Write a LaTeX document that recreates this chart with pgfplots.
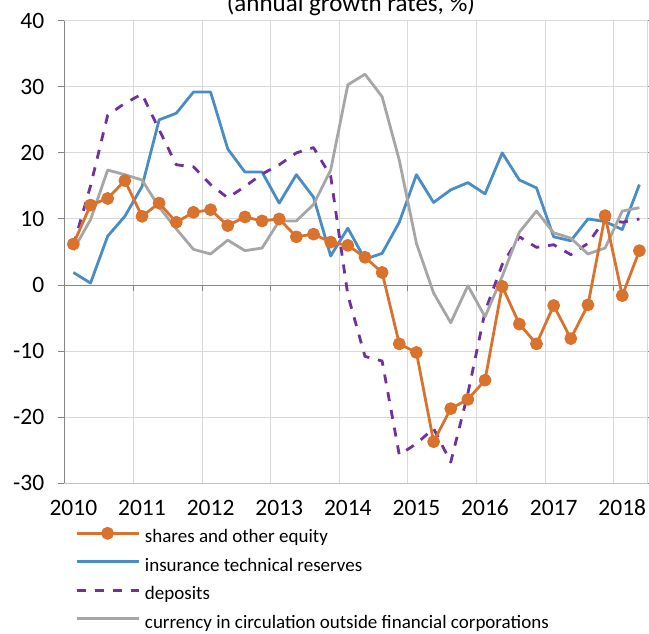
\documentclass[border=0pt]{standalone}
\usepackage{fontspec}
\setmainfont{Carlito}
\usepackage{pgfplots}
\usepackage{pgfplotstable}
\pgfplotsset{compat=1.18}
\definecolor{cOrange}{HTML}{D9722D}
\definecolor{cBlue}{HTML}{4A8CC4}
\definecolor{cPurple}{HTML}{7030A0}
\definecolor{cGray}{HTML}{A6A6A6}
\definecolor{gridcol}{HTML}{D9D9D9}
\definecolor{axcol}{HTML}{868686}
\pgfplotstableread{
i shares ins dep cur
0 6.2 1.9 6.0 5.3
1 12.1 0.3 15.0 9.9
2 13.1 7.4 25.7 17.4
3 15.8 10.4 27.5 16.7
4 10.4 14.9 28.9 15.9
5 12.4 25.0 23.5 11.8
6 9.5 26.0 18.2 8.5
7 11.0 29.2 17.9 5.4
8 11.4 29.2 15.2 4.7
9 9.0 20.6 13.2 6.8
10 10.3 17.1 14.9 5.2
11 9.7 17.1 16.8 5.6
12 10.0 12.4 18.2 9.7
13 7.3 16.7 20.0 9.7
14 7.7 13.3 20.8 12.2
15 6.5 4.4 16.5 17.4
16 6.0 8.6 -1.5 30.3
17 4.2 3.9 -10.8 31.9
18 1.9 4.8 -11.5 28.5
19 -8.9 9.5 -25.7 18.9
20 -10.2 16.7 -24.0 6.3
21 -23.7 12.5 -21.7 -1.2
22 -18.7 14.4 -26.8 -5.7
23 -17.3 15.5 -16.4 -0.1
24 -14.4 13.8 -4.0 -4.8
25 -0.2 20.0 3.1 1.3
26 -5.9 15.9 7.3 8.0
27 -8.9 14.7 5.7 11.2
28 -3.1 7.3 6.1 7.9
29 -8.1 6.7 4.6 7.1
30 -3.0 10.0 6.3 4.7
31 10.5 9.6 10.0 5.6
32 -1.6 8.4 9.5 11.2
33 5.2 15.2 10.0 11.7
}\datatable
\begin{document}
\begin{tikzpicture}
\begin{axis}[
  at={(0pt,0pt)}, anchor=south west,
  scale only axis, width=583.2pt, height=462.6pt,
  xmin=-0.5, xmax=33.5, ymin=-30, ymax=40,
  xtick={0,4,8,12,16,20,24,28,32},
  xticklabels={2010,2011,2012,2013,2014,2015,2016,2017,2018},
  ytick={-30,-20,-10,0,10,20,30,40},
  minor xtick={3.5,7.5,11.5,15.5,19.5,23.5,27.5,31.5},
  xminorgrids, ymajorgrids,
  grid style={draw=gridcol, line width=1pt},
  minor grid style={draw=gridcol, line width=1pt},
  axis line style={draw=gridcol, line width=1pt},
  x tick style={draw=none},
  minor x tick style={draw=none},
  y tick style={draw=axcol, line width=1pt},
  tick align=outside, major tick length=7pt,
  tick label style={font=\fontsize{23.5}{23.5}\selectfont},
  /pgf/number format/assume math mode=true,
  yticklabel style={xshift=-10pt},
  xticklabel style={yshift=-6pt},
  clip=false,
  legend cell align=left,
  legend style={at={(0.0123,-0.0925)}, anchor=north west, draw=none, fill=none,
    font=\fontsize{19}{19}\selectfont,
    nodes={inner sep=0pt, text height=13pt, text depth=4pt},
    row sep=11.5pt,
    /tikz/every even column/.append style={column sep=5pt},
    /tikz/every odd column/.append style={column sep=5pt}},
  legend image code/.code={\draw[mark repeat=2,mark phase=2,#1] plot coordinates {(0pt,5pt) (31pt,5pt) (62pt,5pt)};},
]
\addlegendimage{cOrange, line width=2.8pt, mark=*, mark size=5pt, mark options={solid}}
\addlegendentry{shares and other equity}
\addlegendimage{cBlue, line width=2.8pt}
\addlegendentry{insurance technical reserves}
\addlegendimage{cPurple, line width=2.8pt, dash pattern=on 9pt off 9pt}
\addlegendentry{deposits}
\addlegendimage{cGray, line width=2.8pt}
\addlegendentry{currency in circulation outside financial corporations}
\draw[axcol, line width=1pt] (axis cs:-0.5,0) -- (axis cs:33.5,0);
\draw[axcol, line width=1pt] (axis cs:-0.5,-30) -- (axis cs:-0.5,40);
\draw[gridcol!70!axcol, line width=1pt] (axis cs:-0.5,-30) -- (axis cs:33.5,-30);
\pgfplotsinvokeforeach{3.5,7.5,11.5,15.5,19.5,23.5,27.5,31.5}{
  \draw[axcol, line width=1pt] (axis cs:#1,0) -- ++(0pt,-6pt);
}
\addplot[forget plot, cBlue, line width=2.8pt, line join=round] table[x=i, y=ins] {\datatable};
\addplot[forget plot, cPurple, line width=2.8pt, dash pattern=on 9pt off 9pt, line join=round] table[x=i, y=dep] {\datatable};
\addplot[forget plot, cGray, line width=2.8pt, line join=round] table[x=i, y=cur] {\datatable};
\addplot[forget plot, cOrange, line width=2.8pt, line join=round, mark=*, mark size=5pt, mark options={solid}] table[x=i, y=shares] {\datatable};
\end{axis}
\node[anchor=base, font=\fontsize{25}{25}\selectfont] at (286.2pt,471.8pt) {(annual growth rates, \%)};
\pgfresetboundingbox
\path[use as bounding box] (-64.8pt,-150.7pt) rectangle (584.2pt,483.3pt);
\end{tikzpicture}
\end{document}
